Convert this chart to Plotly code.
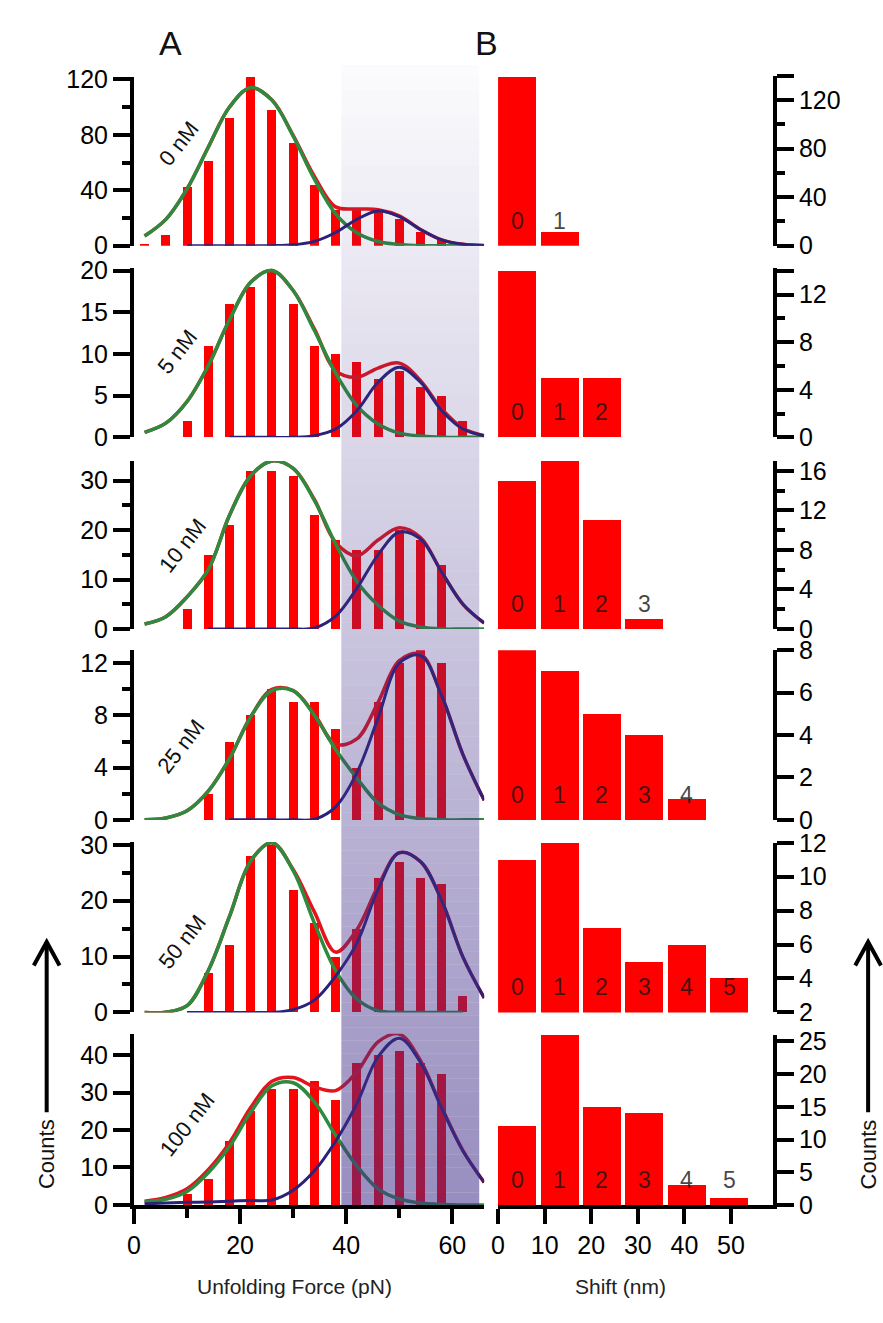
import plotly.graph_objects as go

W, H = 883, 1323
FONT = "Liberation Sans, Arial, sans-serif"

# ---------------- data ----------------
concentrations = ["0 nM", "5 nM", "10 nM", "25 nM", "50 nM", "100 nM"]

# Panel A: unfolding force histogram (bin centres, pN)
force_bins = [2, 6, 10, 14, 18, 22, 26, 30, 34, 38, 42, 46, 50, 54, 58, 62]
counts_0nM = [1, 8, 42, 61, 92, 122, 98, 74, 44, 26, 27, 25, 19, 10, 4, 0]
counts_5nM = [0, 0, 2, 11, 16, 18, 20, 16, 11, 10, 9, 7, 8, 6, 5, 2]
counts_10nM = [0, 0, 4, 15, 21, 32, 32, 31, 23, 18, 16, 16, 20, 18, 13, 0]
counts_25nM = [0, 0, 0, 2, 6, 8, 10, 9, 9, 7, 4, 9, 12, 13, 12, 0]
counts_50nM = [0, 0, 0, 7, 12, 28, 30, 22, 16, 10, 15, 24, 27, 24, 23, 3]
counts_100nM = [0, 0, 3, 7, 17, 25, 31, 31, 33, 28, 38, 40, 41, 38, 35, 0]

# Fit curves (pN grid)
fit_force = [2, 6, 10, 14, 18, 22, 26, 30, 34, 38, 42, 46, 50, 54, 58, 62, 66]
N = None
green_0nM = [7, 19, 41, 71, 100, 114, 105, 79, 48, 23, 9.3, 3, 0.8, 0, 0, 0, 0]
green_5nM = [0.6, 1.7, 4.3, 8.6, 14.1, 18.6, 20, 17.6, 12.8, 7.7, 3.8, 1.6, 0.5, 0.15, 0, 0, 0]
green_10nM = [1.0, 2.5, 6.5, 12, 23, 31, 34, 32.5, 26, 17.2, 9.6, 4.8, 1.6, 0.4, 0, 0, 0]
green_25nM = [0, 0.15, 0.7, 2.2, 4.7, 7.9, 9.9, 9.9, 8.0, 5.4, 3.2, 1.3, 0.4, 0.1, 0, 0, 0]
green_50nM = [0, 0.05, 1.2, 7.5, 17.2, 27.1, 30.4, 25.4, 16, 7.5, 2.4, 0.3, 0, 0, 0, 0, N]
green_100nM = [0.8, 1.5, 3.6, 8.6, 15.6, 24.7, 31.8, 32.6, 27.5, 18.6, 10.4, 4.3, 1.6, 0.5, 0.1, 0, 0]

blue_0nM = [N, N, 0, 0, 0, 0, 0, 0.6, 3.1, 9.5, 19, 25, 21, 11.7, 4.2, 1, 0.15]
blue_5nM = [N, N, N, N, 0, 0, 0, 0, 0.2, 1.0, 3.2, 6.6, 8.4, 6.6, 3.2, 1.0, 0.2]
blue_10nM = [N, N, N, 0, 0, 0, 0, 0, 0.2, 2.6, 8.2, 15, 19.6, 18.2, 11.5, 5, 1.2]
blue_25nM = [N, N, N, N, 0, 0, 0, 0, 0.05, 1.0, 3.6, 7.8, 12.0, 12.6, 9.5, 5.0, 1.5]
blue_50nM = [N, N, 0, 0, 0, 0, 0, 0.5, 2.2, 6.5, 12.4, 22, 28.6, 27, 20, 9.9, 2.6]
blue_100nM = [0.3, 0.5, 0.7, 0.8, 1.0, 1.2, 1.3, 3.9, 9.1, 17, 27, 39.5, 44.5, 38, 25.8, 14.4, 6]

red_0nM = [7, 19, 41, 71, 100, 114, 105, 79.6, 50, 28, 26.5, 26, 21.5, 11.7, 4.2, 1, 0.2]
red_5nM = [0.6, 1.7, 4.3, 8.6, 14.1, 18.6, 20, 17.6, 13, 8.0, 7.2, 8.3, 8.9, 6.8, 3.4, 1.1, 0.2]
red_10nM = [1.0, 2.5, 6.5, 12, 23, 31, 34, 32.5, 26.2, 17.5, 14.8, 18, 20.5, 18.5, 11.5, 5, 1.2]
red_25nM = [0, 0.15, 0.7, 2.2, 4.7, 7.9, 10, 9.9, 8.1, 5.8, 6.2, 9.0, 12.2, 12.7, 9.5, 5.0, 1.5]
red_50nM = [0, 0.05, 1.2, 7.5, 17.2, 27.1, 30.4, 25.6, 18, 10.8, 14.8, 22.6, 28.6, 27, 20, 9.9, 2.6]
red_100nM = [1.0, 2.0, 4.3, 9.4, 16.6, 26, 33, 34, 31.5, 30.5, 35.5, 43.5, 45.6, 38.5, 26, 14.5, 6]

# Panel B: shift histogram (bin centres, nm)
shift_bins = [4.1, 13.2, 22.3, 31.4, 40.5, 49.6]
shift_labels = ["0", "1", "2", "3", "4", "5"]
shift_0nM = [139, 11]
shift_5nM = [14, 5, 5]
shift_10nM = [15, 17, 11, 1]
shift_25nM = [8, 7, 5, 4, 1]
shift_50nM = [11, 12, 7, 5, 6, 4]
shift_100nM = [12, 26, 15, 14, 3, 1]

# Axis tick values
A_major = [[0, 40, 80, 120], [0, 5, 10, 15, 20], [0, 10, 20, 30], [0, 4, 8, 12], [0, 10, 20, 30], [0, 10, 20, 30, 40]]
A_minor = [[20, 60, 100], [], [5, 15, 25], [2, 6, 10], [5, 15, 25], []]
B_major = [[0, 40, 80, 120, 140], [0, 4, 8, 12, 14], [0, 4, 8, 12, 16], [0, 2, 4, 6, 8], [2, 4, 6, 8, 10, 12], [0, 5, 10, 15, 20, 25]]
B_major_text = [["0", "40", "80", "120", ""], ["0", "4", "8", "12", ""], ["0", "4", "8", "12", "16"],
                ["0", "2", "4", "6", "8"], ["2", "4", "6", "8", "10", "12"], ["0", "5", "10", "15", "20", "25"]]
B_minor = [[20, 60, 100], [2, 6, 10], [2, 6, 10, 14], [], [], []]

force_counts = [counts_0nM, counts_5nM, counts_10nM, counts_25nM, counts_50nM, counts_100nM]
greens = [green_0nM, green_5nM, green_10nM, green_25nM, green_50nM, green_100nM]
blues = [blue_0nM, blue_5nM, blue_10nM, blue_25nM, blue_50nM, blue_100nM]
reds = [red_0nM, red_5nM, red_10nM, red_25nM, red_50nM, red_100nM]
shift_counts = [shift_0nM, shift_5nM, shift_10nM, shift_25nM, shift_50nM, shift_100nM]

# ---------------- layout geometry (pixels) ----------------
row_bottom = [236.7, 432.5, 628.3, 823.3, 1020, 1216.7]
A_top = [63.9, 259.5, 456.6, 650, 846, 1041.7]
A_range = [(0, 122), (0, 20.3), (0, 34), (0, 13), (0, 30.5), (0, 45.7)]
B_top = [63.3, 260, 456.7, 650, 846.7, 1043]
B_range = [(0, 140), (0, 14.2), (0, 17), (0, 8), (2, 12), (0, 26)]
A_x = (128, 481)
B_x = (495, 772)


def px(x):
    return x / W


def py(y):
    return 1 - y / H


def ax_name(kind, k):
    return kind + ("" if k == 1 else str(k))


RED = "#FF0000"
FIT_RED = "#E3141C"
GREEN = "#2E8A3E"
NAVY = "#2B2178"

fig = go.Figure()
layout = dict()
annotations = []
shapes = []

tickfont = dict(family=FONT, size=25, color="black")


def note(x, y, text, size, color="#111", angle=0):
    return dict(x=px(x), y=py(y), xref="paper", yref="paper", text=text, showarrow=False,
                textangle=angle, xanchor="center", yanchor="middle",
                font=dict(family=FONT, size=size, color=color))


for i in range(6):
    kA = 2 * i + 1
    kB = 2 * i + 2
    xa, ya = ax_name("x", kA), ax_name("y", kA)
    xb, yb = ax_name("x", kB), ax_name("y", kB)

    # --- panel A traces ---
    fig.add_trace(go.Bar(x=force_bins, y=force_counts[i], width=1.7, marker=dict(color=RED, line=dict(width=0)),
                         xaxis=xa, yaxis=ya, showlegend=False))
    fig.add_trace(go.Scatter(x=fit_force, y=reds[i], mode="lines", line=dict(color=FIT_RED, width=3.5, shape="spline"),
                             xaxis=xa, yaxis=ya, showlegend=False))
    fig.add_trace(go.Scatter(x=fit_force, y=greens[i], mode="lines", line=dict(color=GREEN, width=3.5, shape="spline"),
                             xaxis=xa, yaxis=ya, showlegend=False))
    fig.add_trace(go.Scatter(x=fit_force, y=blues[i], mode="lines", line=dict(color=NAVY, width=3, shape="spline"),
                             xaxis=xa, yaxis=ya, showlegend=False))

    # --- panel B traces ---
    n = len(shift_counts[i])
    fig.add_trace(go.Bar(x=shift_bins[:n], y=shift_counts[i], width=8.15, marker=dict(color=RED, line=dict(width=0)),
                         xaxis=xb, yaxis=yb, showlegend=False))
    for j in range(n):
        annotations.append(dict(x=shift_bins[j], xref=xb, y=0, yref=yb + " domain", yshift=25,
                                yanchor="middle", xanchor="center", showarrow=False, text=shift_labels[j],
                                font=dict(family=FONT, size=23, color="rgba(20,20,20,0.8)")))

    bottom = (i == 5)
    xcommon = dict(showgrid=False, zeroline=False)
    layout["xaxis" + ("" if kA == 1 else str(kA))] = dict(
        xcommon, domain=[px(A_x[0]), px(A_x[1])], range=[0, 66], anchor=ya,
        visible=bottom, showline=bottom, linewidth=4, linecolor="black",
        ticks="outside" if bottom else "", ticklen=15, tickwidth=4, tickcolor="black",
        tickvals=[0, 20, 40, 60], ticktext=["0", "20", "40", "60"], tickfont=tickfont,
        minor=dict(tickvals=[10, 30, 50], ticks="outside", ticklen=9, tickwidth=4, tickcolor="black"))
    layout["xaxis" + str(kB)] = dict(
        xcommon, domain=[px(B_x[0]), px(B_x[1])], range=[0, 59], anchor=yb,
        visible=bottom, showline=bottom, linewidth=4, linecolor="black",
        ticks="outside" if bottom else "", ticklen=15, tickwidth=4, tickcolor="black",
        tickvals=[0, 10, 20, 30, 40, 50], tickfont=tickfont)

    layout["yaxis" + ("" if kA == 1 else str(kA))] = dict(
        showgrid=False, zeroline=False, domain=[py(row_bottom[i]), py(A_top[i])], range=list(A_range[i]),
        anchor=xa, side="left", showline=True, linewidth=4, linecolor="black",
        ticks="outside", ticklen=17, tickwidth=4, tickcolor="black",
        tickvals=A_major[i], tickfont=tickfont,
        minor=dict(tickvals=A_minor[i], ticks="outside", ticklen=8, tickwidth=4, tickcolor="black"))
    layout["yaxis" + str(kB)] = dict(
        showgrid=False, zeroline=False, domain=[py(row_bottom[i]), py(B_top[i])], range=list(B_range[i]),
        anchor=xb, side="right", showline=True, linewidth=4, linecolor="black",
        ticks="outside", ticklen=17, tickwidth=4, tickcolor="black",
        tickvals=B_major[i], ticktext=B_major_text[i], tickfont=tickfont,
        minor=dict(tickvals=B_minor[i], ticks="outside", ticklen=8, tickwidth=4, tickcolor="black"))

# concentration labels (rotated)
conc_pos = [(173, 132), (172, 345), (177, 543), (175, 748), (177, 948), (182, 1135)]
for lab, (cx, cy) in zip(concentrations, conc_pos):
    annotations.append(note(cx, cy, lab, 22, angle=-52))

# panel letters
annotations.append(note(165, 30, "A", 34))
annotations.append(note(483, 30, "B", 34))
# axis titles
annotations.append(note(290, 1300, "Unfolding Force (pN)", 21, color="#222"))
annotations.append(note(618, 1300, "Shift (nm)", 21, color="#222"))
for cxp in (40, 868):
    annotations.append(note(cxp, 1165, "Counts", 22, angle=-90))
    shapes.append(dict(type="line", xref="paper", yref="paper", x0=px(cxp), x1=px(cxp),
                       y0=py(1122), y1=py(948), line=dict(color="black", width=4)))
    shapes.append(dict(type="path", xref="paper", yref="paper",
                       path=f"M {px(cxp-13)},{py(972)} L {px(cxp)},{py(948)} L {px(cxp+13)},{py(972)}",
                       line=dict(color="black", width=4)))

# gradient shade over the high-force region of panel A
shade_left, shade_right = 337, 476
y_start, y_end = 52, 1217
nstrip = 90
for s in range(nstrip):
    y0 = y_start + (y_end - y_start) * s / nstrip
    y1 = y_start + (y_end - y_start) * (s + 1) / nstrip
    a = 0.02 + 0.53 * ((y0 + y1) / 2 - y_start) / (y_end - y_start)
    shapes.append(dict(type="rect", xref="paper", yref="paper", x0=px(shade_left), x1=px(shade_right),
                       y0=py(y1), y1=py(y0), line=dict(width=0),
                       fillcolor=f"rgba(66,48,138,{a:.3f})", layer="above"))

layout.update(dict(width=W, height=H, margin=dict(l=0, r=0, t=0, b=0, pad=0), paper_bgcolor="white",
                   plot_bgcolor="rgba(0,0,0,0)", bargap=0, showlegend=False, hovermode=False,
                   annotations=annotations, shapes=shapes, font=dict(family=FONT)))
fig.update_layout(**layout)
fig.write_html("out.html", config={"displayModeBar": False, "staticPlot": True},
               post_script="document.body.style.margin='0';document.body.style.overflow='hidden';")
